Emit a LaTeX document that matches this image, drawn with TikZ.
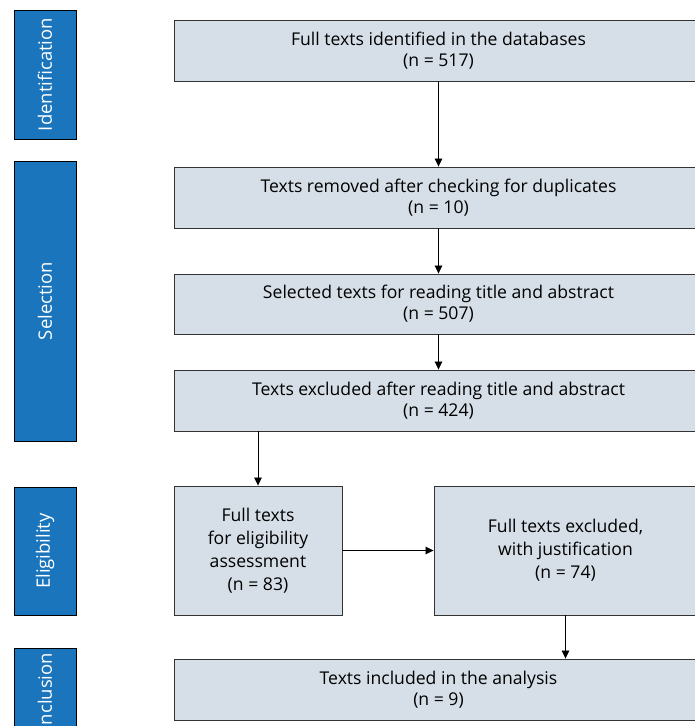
\documentclass[tikz,border=0pt]{standalone}
\usepackage{fontspec}
\setmainfont{Open Sans}
\usetikzlibrary{arrows.meta}

\definecolor{barblue}{RGB}{26,117,188}
\definecolor{boxfill}{RGB}{214,223,232}

\begin{document}
\begin{tikzpicture}[x=1pt,y=-1pt,
    phase/.style={draw=black,fill=barblue,line width=0.9pt,text=white,rotate=90,inner sep=0pt,font=\fontsize{18.5}{22}\selectfont},
    stage/.style={draw=black!80,fill=boxfill,line width=0.9pt,align=center,inner sep=0pt,font=\fontsize{17.6}{21}\selectfont},
    flow/.style={-{Triangle[length=8pt,width=7.5pt]},line width=0.8pt}]
  \useasboundingbox (0,0) rectangle (695,726);
  \clip (0,0) rectangle (695,726);

  \node[phase,minimum width=129,minimum height=62] (ident) at (45,74.5) {Identification};
  \node[phase,minimum width=280,minimum height=62] (select) at (45,301) {Selection};
  \node[phase,minimum width=128,minimum height=62] (eligib) at (45,551) {Eligibility};
  \node[phase,minimum width=87,minimum height=62] (inclus) at (45,691.5) {Inclusion};

  \node[stage,minimum width=529,minimum height=61] (found) at (438.5,50.5) {Full texts identified in the databases\\(n = 517)};
  \node[stage,minimum width=529,minimum height=61] (nodup) at (438.5,197.5) {Texts removed after checking for duplicates\\(n = 10)};
  \node[stage,minimum width=529,minimum height=60] (chosen) at (438.5,304) {Selected texts for reading title and abstract\\(n = 507)};
  \node[stage,minimum width=529,minimum height=61] (screened) at (438.5,400.5) {Texts excluded after reading title and abstract\\(n = 424)};
  \node[stage,minimum width=168,minimum height=129,font=\fontsize{17.6}{23}\selectfont] (fulltxt) at (258,550.5) {Full texts\\for eligibility\\assessment\\(n = 83)};
  \node[stage,minimum width=263,minimum height=129,font=\fontsize{17.6}{23}\selectfont] (dropped) at (565.5,550.5) {Full texts excluded,\\with justification\\(n = 74)};
  \node[stage,minimum width=529,minimum height=61] (included) at (438.5,689.5) {Texts included in the analysis\\(n = 9)};

  \draw[flow] (found) -- (nodup);
  \draw[flow] (nodup) -- (chosen);
  \draw[flow] (chosen) -- (screened);
  \draw[flow] (fulltxt |- screened.south) -- (fulltxt);
  \draw[flow] (fulltxt) -- (dropped);
  \draw[flow] (dropped) -- (dropped |- included.north);
\end{tikzpicture}
\end{document}
